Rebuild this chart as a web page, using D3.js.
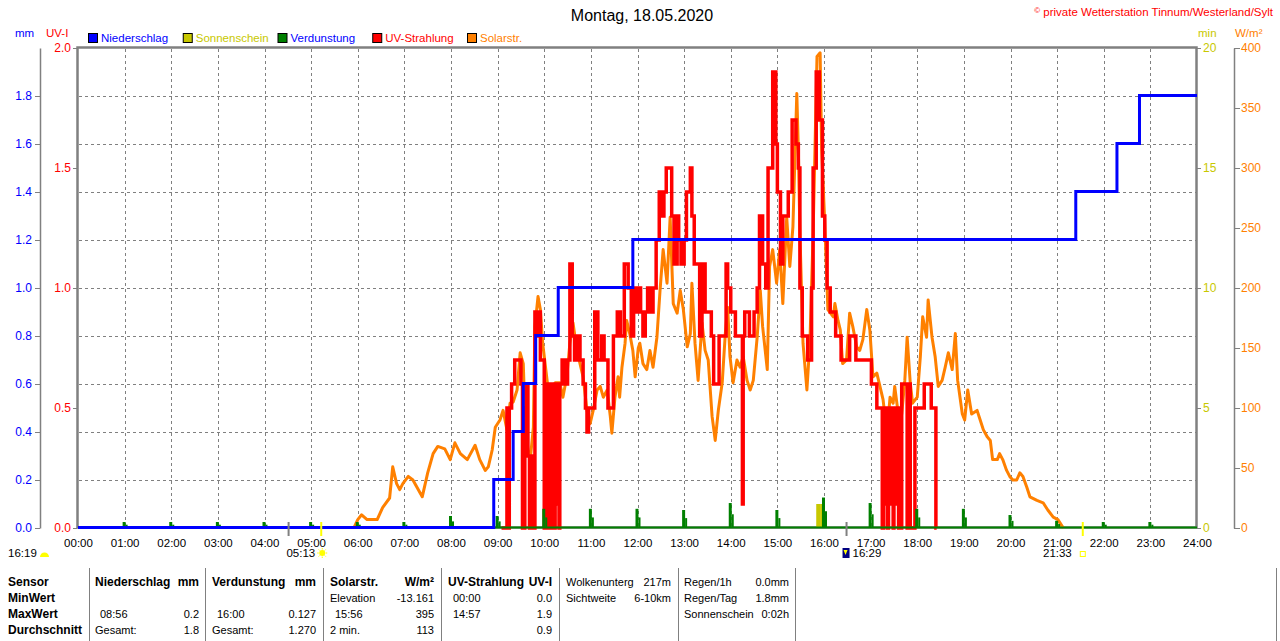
<!DOCTYPE html>
<html>
<head>
<meta charset="utf-8">
<script src="https://cdn.jsdelivr.net/npm/d3@7"></script>
<style>
body{margin:0;background:#fff;}
svg{display:block;font-family:"Liberation Sans",Arial,sans-serif;}
</style>
</head>
<body>
<svg id="chart" width="1280" height="641"></svg>
<script>
// Werte
const hourLabels = ["00:00","01:00","02:00","03:00","04:00","05:00","06:00","07:00","08:00","09:00","10:00","11:00","12:00",
  "13:00","14:00","15:00","16:00","17:00","18:00","19:00","20:00","21:00","22:00","23:00","24:00"];
const mmTicks = [0,0.2,0.4,0.6,0.8,1.0,1.2,1.4,1.6,1.8];
const uvTicks = [0,0.5,1.0,1.5,2.0];
const minTicks = [0,5,10,15,20];
const wTicks = [0,50,100,150,200,250,300,350,400];

// Niederschlag (mm, kumuliert)
const precipData = [["00:00",0],["08:55",0.2],["09:20",0.4],["09:33",0.6],["09:49",0.8],["10:18",1.0],["11:54",1.2],
  ["21:24",1.4],["22:17",1.6],["22:46",1.8],["24:00",1.8]];

// Verdunstung (mm pro Stunde)
const evapData = [["01:00",0.025],["02:00",0.025],["03:00",0.025],["04:00",0.025],["05:00",0.025],["06:00",0.025],
  ["07:00",0.025],["08:00",0.05],["09:00",0.05],["10:00",0.08],["11:00",0.08],["12:00",0.08],["13:00",0.075],
  ["14:00",0.104],["15:00",0.075],["16:00",0.127],["17:00",0.104],["18:00",0.08],["19:00",0.08],["20:00",0.054],
  ["21:00",0.03],["22:00",0.025],["23:00",0.025]];

// Sonnenschein (min pro 5 min)
const sunData = [["15:50",1],["15:55",1]];

// Solarstrahlung W/m2
const solarData = [["05:55",0],["06:00",7],["06:05",11],["06:12",7],["06:25",7],["06:32",17],["06:41",25],["06:45",51],
  ["06:50",37],["06:54",32],["06:58",37],["07:05",43],["07:11",40],["07:23",26],["07:30",46],["07:37",62],["07:43",68],
  ["07:52",66],["07:59",57],["08:05",71],["08:12",62],["08:21",57],["08:31",69],["08:37",57],["08:44",48],["08:48",51],
  ["08:53",65],["08:57",84],["09:03",90],["09:07",98],["09:12",82],["09:16",104],["09:20",105],["09:25",115],["09:29",146],
  ["09:33",137],["09:35",98],["09:39",65],["09:42",57],["09:46",84],["09:48",168],["09:52",193],["09:55",182],["09:58",154],
  ["10:04",121],["10:07",115],["10:14",121],["10:20",121],["10:24",109],["10:29",126],["10:33",154],["10:37",171],
  ["10:42",148],["10:46",137],["10:50",126],["10:55",98],["10:59",87],["11:03",98],["11:08",115],["11:12",118],["11:16",109],
  ["11:21",115],["11:25",93],["11:27",79],["11:31",109],["11:35",126],["11:37",109],["11:40",134],["11:44",154],["11:46",173],
  ["11:50",162],["11:54",148],["11:57",126],["12:01",150],["12:03",154],["12:07",137],["12:12",132],["12:16",148],["12:20",134],
  ["12:25",159],["12:29",198],["12:33",232],["12:38",204],["12:42",259],["12:46",187],["12:51",179],["12:55",198],["12:59",182],
  ["13:04",151],["13:08",162],["13:10",204],["13:14",154],["13:18",123],["13:23",171],["13:27",148],["13:31",140],["13:36",93],
  ["13:40",73],["13:44",98],["13:49",121],["13:53",162],["13:56",184],["13:59",143],["14:03",121],["14:08",140],["14:12",134],
  ["14:16",143],["14:21",123],["14:25",115],["14:29",123],["14:34",159],["14:38",198],["14:41",168],["14:47",132],["14:50",218],
  ["14:54",232],["14:59",204],["15:03",232],["15:07",187],["15:12",259],["15:16",218],["15:20",251],["15:25",362],["15:27",315],
  ["15:29",246],["15:33",154],["15:38",115],["15:42",157],["15:46",246],["15:51",393],["15:55",396],["15:57",315],["16:01",254],
  ["16:05",182],["16:12",176],["16:14",187],["16:18",173],["16:21",165],["16:24",137],["16:29",140],["16:33",179],["16:37",168],
  ["16:42",151],["16:46",148],["16:50",157],["16:55",182],["16:59",165],["17:03",126],["17:08",129],["17:12",118],["17:16",107],
  ["17:21",79],["17:25",109],["17:29",104],["17:31",118],["17:35",98],["17:40",95],["17:44",123],["17:47",159],["17:51",121],
  ["17:54",104],["18:00",109],["18:04",143],["18:07",176],["18:12",159],["18:14",190],["18:19",159],["18:23",143],["18:27",118],
  ["18:32",123],["18:36",134],["18:40",146],["18:45",132],["18:49",162],["18:52",123],["18:58",95],["19:01",90],["19:05",115],
  ["19:10",95],["19:17",98],["19:21",90],["19:25",82],["19:30",76],["19:34",73],["19:37",57],["19:43",57],["19:46",62],
  ["19:50",57],["19:55",48],["19:59",43],["20:03",40],["20:08",40],["20:12",46],["20:16",43],["20:21",34],["20:25",26],
  ["20:34",23],["20:42",21],["20:48",15],["20:55",9],["21:01",7],["21:06",2],["21:08",0]];

// UV-Index
const uvData = [["09:05",0],["09:10",0],["09:12",0.5],["09:14",0],["09:15",0.5],["09:18",0.6],["09:22",0.7],["09:30",0.6],
  ["09:32",0],["09:35",0.5],["09:37",0.6],["09:39",0.3],["09:41",0],["09:44",0.3],["09:45",0],["09:48",0.9],["09:51",0.8],
  ["09:53",0.9],["09:55",0.7],["10:00",0],["10:02",0.6],["10:04",0],["10:05",0.6],["10:07",0],["10:08",0.6],["10:10",0],
  ["10:11",0.5],["10:13",0],["10:14",0.6],["10:16",0.1],["10:17",0.6],["10:19",0],["10:20",0.6],["10:23",0.7],["10:27",0.6],
  ["10:30",0.7],["10:33",1.1],["10:36",0.8],["10:39",0.7],["10:42",0.8],["10:46",0.7],["10:50",0.6],["10:53",0.5],["10:55",0.4],
  ["10:57",0.5],["11:05",0.9],["11:09",0.7],["11:14",0.8],["11:17",0.7],["11:22",0.5],["11:29",0.8],["11:34",0.9],["11:38",0.8],
  ["11:43",1.1],["11:48",1.0],["11:52",0.8],["11:55",1.0],["11:58",0.9],["12:01",1.0],["12:04",0.9],["12:07",0.8],["12:10",0.9],
  ["12:13",1.0],["12:17",0.9],["12:20",1.0],["12:24",1.2],["12:28",1.4],["12:31",1.3],["12:34",1.4],["12:37",1.5],["12:44",1.3],
  ["12:47",1.1],["12:51",1.3],["12:53",1.2],["12:56",1.1],["13:00",1.2],["13:03",1.4],["13:08",1.5],["13:10",1.3],["13:13",1.1],
  ["13:20",0.8],["13:23",1.1],["13:27",0.9],["13:35",0.8],["13:38",0.6],["13:45",0.8],["13:54",1.1],["13:56",1.0],["14:00",0.9],
  ["14:06",0.8],["14:15",0.1],["14:16",0.8],["14:18",0.9],["14:24",0.8],["14:30",0.9],["14:34",1.0],["14:37",1.3],["14:41",1.1],
  ["14:45",1.0],["14:48",1.5],["14:54",1.9],["14:58",1.6],["15:00",1.4],["15:04",1.1],["15:07",1.3],["15:14",1.4],["15:19",1.7],
  ["15:24",1.6],["15:27",1.5],["15:29",1.0],["15:32",0.8],["15:39",0.7],["15:44",1.0],["15:46",1.5],["15:50",1.9],["15:54",1.7],
  ["15:58",1.3],["16:01",1.2],["16:04",1.0],["16:08",0.9],["16:15",0.8],["16:22",0.7],["16:33",0.8],["16:41",0.7],["17:01",0.6],
  ["17:08",0.5],["17:15",0],["17:17",0.5],["17:19",0.1],["17:20",0.5],["17:22",0],["17:23",0.5],["17:25",0.1],["17:27",0.5],
  ["17:29",0],["17:30",0.5],["17:32",0.1],["17:34",0.5],["17:36",0],["17:40",0.6],["17:47",0],["17:49",0.6],["17:51",0],
  ["17:57",0.5],["18:09",0.6],["18:18",0.5],["18:24",0],["18:25",0]];

// Tabelle unten
const statHeads = [["Niederschlag","mm"],["Verdunstung","mm"],["Solarstr.","W/m²"],["UV-Strahlung","UV-I"]];
const statMin = [["",""],["",""],["Elevation","-13.161"],["00:00","0.0"]];
const statMax = [["08:56","0.2"],["16:00","0.127"],["15:56","395"],["14:57","1.9"]];
const statAvg = [["Gesamt:","1.8"],["Gesamt:","1.270"],["2 min.","113"],["","0.9"]];
const rowNames = ["Sensor","MinWert","MaxWert","Durchschnitt"];
const extraA = [["Wolkenunterg","217m"],["Sichtweite","6-10km"]];
const extraB = [["Regen/1h","0.0mm"],["Regen/Tag","1.8mm"],["Sonnenschein","0:02h"]];

const legendNames = ["Niederschlag","Sonnenschein","Verdunstung","UV-Strahlung","Solarstr."];

function tm(s){ const p=s.split(":"); return (+p[0])*60 + (+p[1]); }

const svg = d3.select("#chart");
svg.append("rect").attr("width",1280).attr("height",641).attr("fill","#fff");

const x = d3.scaleLinear().domain([0,1440]).range([78,1197]);
const yMm = d3.scaleLinear().domain([0,2]).range([528,48]);
const yUv = d3.scaleLinear().domain([0,2]).range([528,48]);
const yMin = d3.scaleLinear().domain([0,20]).range([528,48]);
const yW = d3.scaleLinear().domain([0,400]).range([528,48]);

const YELLOW="#c8c800", ORANGE="#ff8000", GREY="#808080";

// Gitter
const grid=svg.append("g").attr("stroke",GREY).attr("stroke-dasharray","3,3").attr("stroke-width",1);
hourLabels.slice(1,-1).forEach(h=>{
  const xx=Math.round(x(tm(h)))+0.5;
  grid.append("line").attr("x1",xx).attr("x2",xx).attr("y1",49).attr("y2",527);
});
mmTicks.slice(1).forEach(v=>{
  const yy=Math.round(yMm(v))+0.5;
  grid.append("line").attr("x1",79).attr("x2",1196).attr("y1",yy).attr("y2",yy);
});

// Rahmen
svg.append("rect").attr("x",x(0)-0.5).attr("y",yMm(2)-0.5).attr("width",x(1440)-x(0)).attr("height",yMm(0)-yMm(2))
  .attr("fill","none").attr("stroke",GREY).attr("stroke-width",2.5);

// Solarstrahlung
svg.append("path").datum(solarData)
  .attr("fill","none").attr("stroke",ORANGE).attr("stroke-width",3).attr("stroke-linejoin","round")
  .attr("d",d3.line().x(d=>x(tm(d[0]))).y(d=>yW(d[1])));

// UV
svg.append("path").datum(uvData)
  .attr("fill","none").attr("stroke","#ff0000").attr("stroke-width",3.5)
  .attr("d",d3.line().curve(d3.curveStepAfter).x(d=>x(tm(d[0]))).y(d=>yUv(d[1])));

// Sonnenschein
svg.selectAll("rect.sun").data(sunData).enter().append("rect")
  .attr("x",d=>x(tm(d[0]))).attr("width",d=>x(tm(d[0])+5)-x(tm(d[0])))
  .attr("y",d=>yMin(d[1])).attr("height",d=>yMin(0)-yMin(d[1])).attr("fill",YELLOW);

// Verdunstung
svg.append("line").attr("x1",x(0)).attr("x2",x(1440)).attr("y1",yMm(0)-0.5).attr("y2",yMm(0)-0.5)
  .attr("stroke","#008000").attr("stroke-width",2);
svg.selectAll("rect.evap").data(evapData).enter().append("rect")
  .attr("x",d=>x(tm(d[0]))-2).attr("width",3)
  .attr("y",d=>yMm(d[1])).attr("height",d=>yMm(0)-yMm(d[1])).attr("fill","#008000");
svg.selectAll("rect.evap2").data(evapData).enter().append("rect")
  .attr("x",d=>x(tm(d[0]))+1).attr("width",2)
  .attr("y",d=>yMm(d[1]*0.55)).attr("height",d=>yMm(0)-yMm(d[1]*0.55)).attr("fill","#008000");

// Niederschlag
svg.append("path").datum(precipData)
  .attr("fill","none").attr("stroke","#0000ff").attr("stroke-width",3)
  .attr("d",d3.line().curve(d3.curveStepAfter).x(d=>x(tm(d[0]))).y(d=>yMm(d[1])-0.5));

// Achsen
function styleAxis(g,color,lineColor,drawDomain){
  g.attr("font-family",null).attr("font-size",null);
  g.selectAll("text").attr("fill",color).style("font-size","12px");
  g.selectAll("line").attr("stroke",lineColor);
  if(drawDomain) g.select(".domain").attr("stroke",lineColor).attr("stroke-width",1.5);
  else g.select(".domain").remove();
}
const fmt1=d3.format(".1f");
const axMm=svg.append("g").attr("transform","translate(40,0)")
  .call(d3.axisLeft(yMm).tickValues(mmTicks).tickSize(5).tickSizeOuter(0).tickPadding(3).tickFormat(fmt1));
styleAxis(axMm,"#0000ff",GREY,true);
const axUv=svg.append("g").attr("transform","translate(77,0)")
  .call(d3.axisLeft(yUv).tickValues(uvTicks).tickSize(4).tickPadding(2).tickFormat(fmt1));
styleAxis(axUv,"#ff0000",GREY,false);
const axMin=svg.append("g").attr("transform","translate(1197,0)")
  .call(d3.axisRight(yMin).tickValues(minTicks).tickSize(4).tickPadding(2));
styleAxis(axMin,YELLOW,GREY,false);
const axW=svg.append("g").attr("transform","translate(1234,0)")
  .call(d3.axisRight(yW).tickValues(wTicks).tickSize(6).tickSizeOuter(0).tickPadding(1));
styleAxis(axW,ORANGE,GREY,true);
const axX=svg.append("g").attr("transform","translate(0,528)")
  .call(d3.axisBottom(x).tickValues(hourLabels.map(tm)).tickFormat((d,i)=>hourLabels[i]).tickSize(0).tickPadding(11));
styleAxis(axX,"#000",GREY,false);
axX.selectAll("text").style("font-size","11.5px");

// Achsentitel
svg.append("text").attr("x",15).attr("y",37).attr("fill","#0000ff").style("font-size","11.5px").text("mm");
svg.append("text").attr("x",46).attr("y",37).attr("fill","#ff0000").style("font-size","11.5px").text("UV-I");
svg.append("text").attr("x",1198).attr("y",37).attr("fill",YELLOW).style("font-size","11.5px").text("min");
svg.append("text").attr("x",1235).attr("y",37).attr("fill",ORANGE).style("font-size","11.5px").text("W/m²");

// Titel
svg.append("text").attr("x",642).attr("y",21).attr("text-anchor","middle").style("font-size","16px").attr("fill","#000")
  .text("Montag, 18.05.2020");
const cp=svg.append("text").attr("x",1273).attr("y",16).attr("text-anchor","end").attr("fill","#ff0000").style("font-size","11.5px");
cp.append("tspan").style("font-size","8px").attr("dy",-3).text("©");
cp.append("tspan").attr("dy",3).text(" private Wetterstation Tinnum/Westerland/Sylt");

// Legende
const legendSquare=["#0000ff",YELLOW,"#008000","#ff0000",ORANGE];
const legendText=["#0000ff",YELLOW,"#0000ff","#ff0000",ORANGE];
legendNames.forEach((n,i)=>{
  const lx=88+i*94.75;
  svg.append("rect").attr("x",lx+0.5).attr("y",33.5).attr("width",9).attr("height",9)
    .attr("fill",legendSquare[i]).attr("stroke","#000").attr("stroke-width",1);
  svg.append("text").attr("x",lx+13).attr("y",42).attr("fill",legendText[i]).style("font-size","11.5px").text(n);
});

// Sonnen- und Mondzeiten
const markTimes=["04:31","05:13","16:29","21:33"];
const markColors=[GREY,"#ffff00",GREY,"#ffff00"];
markTimes.forEach((t,i)=>{
  const xx=x(tm(t));
  svg.append("line").attr("x1",xx).attr("x2",xx).attr("y1",522).attr("y2",536)
    .attr("stroke",markColors[i]).attr("stroke-width",2);
});
svg.append("text").attr("x",8).attr("y",557).style("font-size","11.5px").text("16:19");
svg.append("path").attr("d","M40,557 A4.5,4.5 0 0 1 49,557 Z").attr("fill","#ffff00");
const sr=x(tm("05:13"));
svg.append("text").attr("x",sr-6).attr("y",557).attr("text-anchor","end").style("font-size","11.5px").text("05:13");
svg.append("circle").attr("cx",sr+1).attr("cy",553).attr("r",3).attr("fill","#ffff00");
[0,45,90,135,180,225,270,315].forEach(a=>{
  const r=a*Math.PI/180;
  svg.append("line").attr("x1",sr+1+Math.cos(r)*3.5).attr("y1",553+Math.sin(r)*3.5)
    .attr("x2",sr+1+Math.cos(r)*5).attr("y2",553+Math.sin(r)*5).attr("stroke","#ffff00").attr("stroke-width",1);
});
const ms=x(tm("16:29"));
svg.append("rect").attr("x",ms-4).attr("y",548).attr("width",7).attr("height",10).attr("fill","#000080");
svg.append("path").attr("d",`M${ms-3},550 L${ms+1},550 L${ms-1},555 Z`).attr("fill","#ffff00");
svg.append("text").attr("x",ms+6).attr("y",557).style("font-size","11.5px").text("16:29");
const ss=x(tm("21:33"));
svg.append("text").attr("x",ss-11).attr("y",557).attr("text-anchor","end").style("font-size","11.5px").text("21:33");
svg.append("rect").attr("x",ss-2.5).attr("y",551.5).attr("width",5).attr("height",5).attr("fill","none")
  .attr("stroke","#ffff00").attr("stroke-width",1);

// Tabelle
const rowY=[586,602,618,634];
const seps=[89,205,323,441,559,678,795,1276];
seps.forEach(sx=>{
  svg.append("line").attr("x1",sx+0.5).attr("x2",sx+0.5).attr("y1",568).attr("y2",641).attr("stroke",GREY).attr("stroke-width",1);
});
rowNames.forEach((r,i)=>{
  svg.append("text").attr("x",8).attr("y",rowY[i]).style("font-size","12px").style("font-weight","bold").text(r);
});
const colL=[95,212,330,448], colR=[199,316,434,552];
statHeads.forEach((h,i)=>{
  svg.append("text").attr("x",colL[i]).attr("y",rowY[0]).style("font-size","12px").style("font-weight","bold").text(h[0]);
  svg.append("text").attr("x",colR[i]).attr("y",rowY[0]).attr("text-anchor","end").style("font-size","12px").style("font-weight","bold").text(h[1]);
});
[statMin,statMax,statAvg].forEach((rows,ri)=>{
  rows.forEach((c,i)=>{
    const indent=/^\d\d:\d\d$/.test(c[0])?5:0;
    svg.append("text").attr("x",colL[i]+indent).attr("y",rowY[ri+1]).style("font-size","11px").text(c[0]);
    svg.append("text").attr("x",colR[i]).attr("y",rowY[ri+1]).attr("text-anchor","end").style("font-size","11px").text(c[1]);
  });
});
extraA.forEach((c,i)=>{
  svg.append("text").attr("x",566).attr("y",rowY[i]).style("font-size","11px").text(c[0]);
  svg.append("text").attr("x",671).attr("y",rowY[i]).attr("text-anchor","end").style("font-size","11px").text(c[1]);
});
extraB.forEach((c,i)=>{
  svg.append("text").attr("x",684).attr("y",rowY[i]).style("font-size","11px").text(c[0]);
  svg.append("text").attr("x",789).attr("y",rowY[i]).attr("text-anchor","end").style("font-size","11px").text(c[1]);
});
</script>
</body>
</html>
